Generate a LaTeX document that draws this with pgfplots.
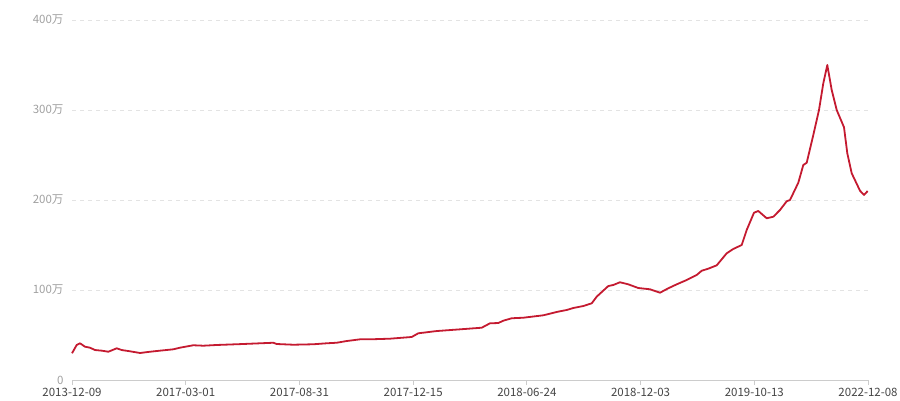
\documentclass[border=0pt]{standalone}
\usepackage{fontspec}
\setmainfont{Noto Sans CJK SC}
\usepackage{pgfplots}
\pgfplotsset{compat=1.18}
\definecolor{linered}{HTML}{C41A30}
\definecolor{ylab}{HTML}{A0A0A0}
\definecolor{xlab}{HTML}{444444}
\definecolor{axisgray}{HTML}{CCCCCC}
\definecolor{gridgray}{HTML}{E3E3E3}
\begin{document}
\begin{tikzpicture}[x=1pt,y=1pt]
\useasboundingbox (0,0) rectangle (900,400);
\begin{axis}[
  at={(72pt,20pt)}, anchor=south west,
  scale only axis, width=796pt, height=360pt,
  xmin=72, xmax=868, ymin=0, ymax=400,
  axis x line*=bottom, axis y line*=left,
  y axis line style={draw=none},
  x axis line style={draw=axisgray, line width=0.9pt},
  xtick={72,185.71,299.43,413.14,526.86,640.57,754.29,868},
  xticklabels={2013-12-09,2017-03-01,2017-08-31,2017-12-15,2018-06-24,2018-12-03,2019-10-13,2022-12-08},
  ytick={0,100,200,300,400},
  yticklabels={0,100万,200万,300万,400万},
  tick align=outside,
  major tick length=5pt,
  xtick style={draw=axisgray, line width=0.9pt},
  ytick style={draw=none},
  ymajorgrids,
  major grid style={draw=gridgray, line width=0.9pt, dash pattern=on 4pt off 4pt},
  yticklabel style={font=\fontsize{11.5}{13}\selectfont, text=ylab},
  xticklabel style={font=\fontsize{11.5}{13}\selectfont, text=xlab},
  clip=false,
]
\addplot[linered, line width=1.8pt, line join=round] coordinates {
(72,29.7)(76.7,38.9)(80,40.8)(85,37)(90,35.9)(95,33.3)(101.7,32.6)(108.3,31.4)
(116.7,35.2)(121.7,33.3)(130,31.9)(140,30)(150,31.4)(160,32.6)(173.3,34.1)
(180,35.9)(193.3,38.6)(203.3,38.1)(216.7,38.9)(243.3,40)(273.3,41.4)(276.7,40)
(293.3,39.2)(313.3,39.7)(326.7,40.8)(336.7,41.4)(346.7,43.3)(360,45.2)
(370,45.2)(390,45.9)(411.7,47.8)(418.3,51.9)(436.7,54.4)(460,56.3)(481.7,58.1)
(490,63)(498.3,63.3)(503.3,65.9)(511.7,68.6)(523.3,69.2)(543.3,71.9)(550,73.7)
(556.7,75.6)(566.7,77.8)(573.3,80)(583.3,82.2)(591.7,85.2)(596.7,92.6)
(608.3,104.4)(613.3,105.6)(620,108.6)(628.3,106.3)(638.3,102.2)(650,100.8)
(660,97)(668.3,101.9)(676.7,106.3)(686.7,111.1)(696.7,116.7)(701.7,121.4)
(708.3,123.7)(716.7,127.4)(726.7,140.8)(733.3,145.6)(741.7,150)(746.7,166.7)
(754,185.9)(758.3,187.8)(766.7,179.7)(773.3,181.4)(780,188.9)(786.7,198.6)
(790,200)(798.3,219.2)(803.3,238.9)(806.7,241.4)(813.3,272.2)(819,300)
(823.3,329.7)(827.3,350)(831.7,322.2)(836.7,300)(844,280.8)(847.3,251.9)
(851.7,229.7)(860,210.3)(864,205.6)(867.7,210)
};
\end{axis}
\end{tikzpicture}
\end{document}
